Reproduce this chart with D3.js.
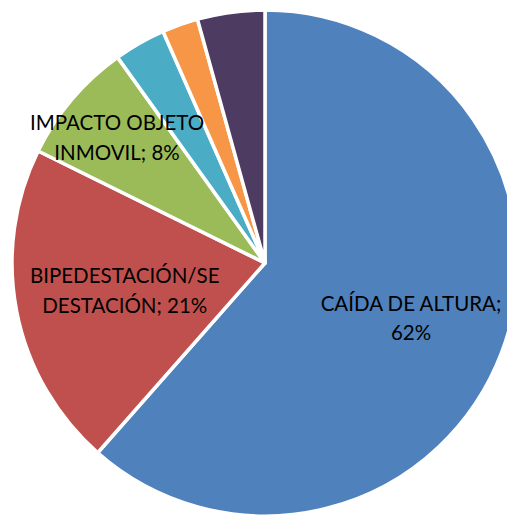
<!DOCTYPE html>
<html>
<head>
<meta charset="utf-8">
<script src="https://cdn.jsdelivr.net/npm/d3@7"></script>
<style>
  html, body { margin: 0; padding: 0; background: #fff; }
  svg { display: block; }
</style>
</head>
<body>
<script>
// categories and shares (%)
const categories = ["CAÍDA DE ALTURA", "BIPEDESTACIÓN/SE DESTACIÓN", "IMPACTO OBJETO INMOVIL", "", "", ""];
const values = [61.5, 20.8, 7.8, 3.3, 2.3, 4.3];
// label lines as Excel wrapped them (null = no label shown)
const labelLines = [
  ["CAÍDA DE ALTURA;", "62%"],
  ["BIPEDESTACIÓN/SE", "DESTACIÓN; 21%"],
  ["IMPACTO OBJETO", "INMOVIL; 8%"],
  null, null, null
];
const colors = ["#4F81BD", "#C0504D", "#9BBB59", "#4BACC6", "#F79646", "#4E3B62"];

const width = 507;
const height = 515;
const cx = 265, cy = 263;
const radius = 253;

const data = categories.map((c, i) => ({ name: c, value: values[i], lines: labelLines[i] }));

const svg = d3.select("body").append("svg")
  .attr("width", width)
  .attr("height", height)
  .style("font-family", "Lato, 'Open Sans', sans-serif");

const g = svg.append("g")
  .attr("transform", `translate(${cx},${cy})`);

const pie = d3.pie().sort(null).value(d => d.value);
const arc = d3.arc().innerRadius(0).outerRadius(radius);
const arcs = pie(data);

g.selectAll("path")
  .data(arcs)
  .join("path")
  .attr("d", arc)
  .attr("fill", (d, i) => colors[i])
  .attr("stroke", "#fff")
  .attr("stroke-width", 3.5)
  .attr("stroke-linejoin", "round");

// Excel pushes labels to different depths in each slice
const labelRadius = [0.617, 0.565, 0.767];
const fontSize = 20.5;
const lineH = 29.5;
const capH = 15;

const labels = g.selectAll("text")
  .data(arcs.filter(d => d.data.lines))
  .join("text")
  .attr("text-anchor", "middle")
  .attr("font-size", fontSize)
  .attr("fill", "#000")
  .attr("transform", (d, i) => {
    const r = radius * labelRadius[i];
    const [x, y] = d3.arc().innerRadius(r).outerRadius(r).centroid(d);
    return `translate(${x},${y - (lineH - capH) / 2})`;
  });

labels.selectAll("tspan")
  .data(d => d.data.lines)
  .join("tspan")
  .attr("x", 0)
  .attr("y", (d, i) => i * lineH)
  .text(d => d);
</script>
</body>
</html>
